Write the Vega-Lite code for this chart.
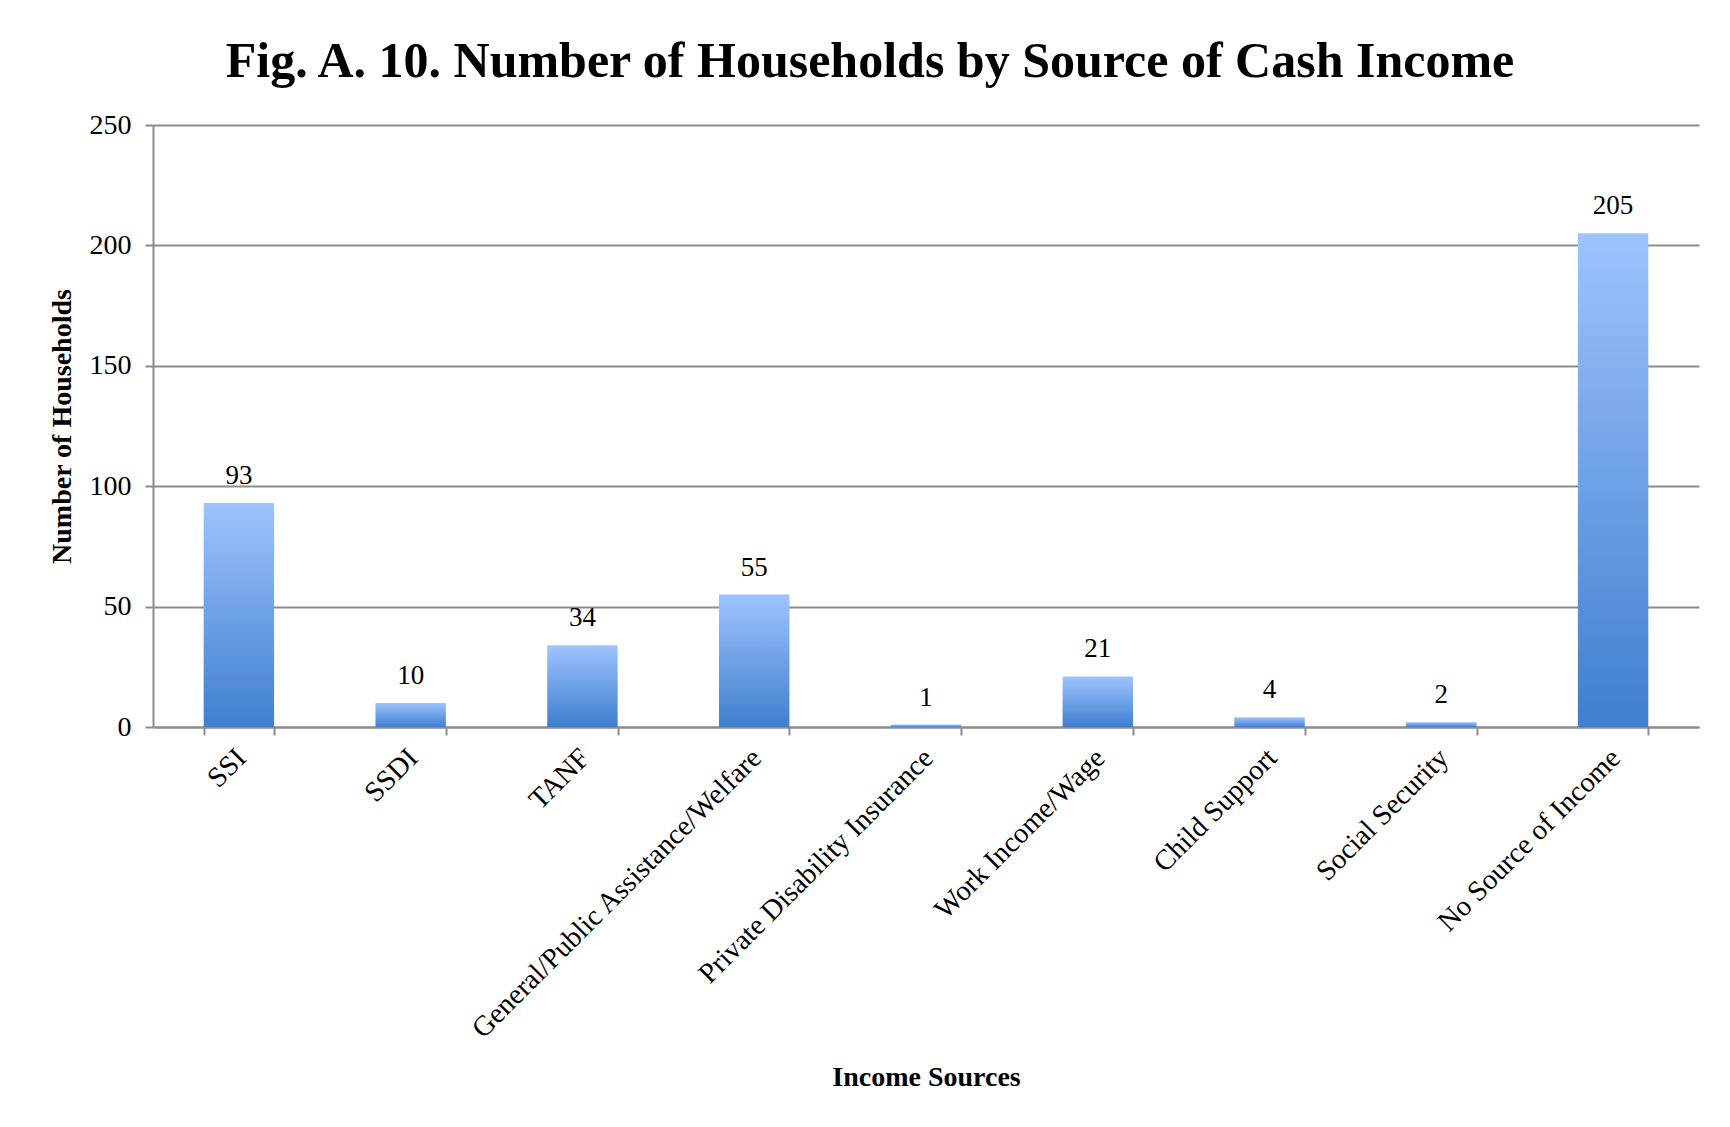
{
  "$schema": "https://vega.github.io/schema/vega-lite/v6.json",
  "width": 1546,
  "height": 602,
  "autosize": {"type": "none"},
  "padding": {"left": 153, "top": 125, "right": 31, "bottom": 400},
  "background": "white",
  "title": {
    "text": "Fig. A. 10. Number of Households by Source of Cash Income",
    "font": "Liberation Serif",
    "fontSize": 50,
    "fontWeight": "bold",
    "color": "black",
    "anchor": "middle",
    "frame": "group",
    "dx": -56,
    "offset": 24
  },
  "config": {
    "view": {"stroke": null},
    "text": {"font": "Liberation Serif"}
  },
  "data": {
    "values": [
      {"source": "SSI", "households": 93},
      {"source": "SSDI", "households": 10},
      {"source": "TANF", "households": 34},
      {"source": "General/Public Assistance/Welfare", "households": 55},
      {"source": "Private Disability Insurance", "households": 1},
      {"source": "Work Income/Wage", "households": 21},
      {"source": "Child Support", "households": 4},
      {"source": "Social Security", "households": 2},
      {"source": "No Source of Income", "households": 205}
    ]
  },
  "encoding": {
    "x": {
      "field": "source",
      "type": "nominal",
      "sort": null,
      "scale": {"paddingInner": 0.59, "paddingOuter": 0.295},
      "axis": {
        "title": "Income Sources",
        "titleFont": "Liberation Serif",
        "titleFontSize": 28,
        "titleFontWeight": "bold",
        "titleColor": "black",
        "titlePadding": 136,
        "labelAngle": -45,
        "labelFont": "Liberation Serif",
        "labelFontSize": 28.5,
        "labelColor": "black",
        "labelPadding": 8,
        "labelOffset": -8,
        "labelLimit": 600,
        "tickBand": "extent",
        "tickSize": 8,
        "tickColor": "#8c8c8c",
        "tickWidth": 2,
        "domainColor": "#8c8c8c",
        "domainWidth": 2
      }
    },
    "y": {
      "field": "households",
      "type": "quantitative",
      "scale": {"domain": [0, 250]},
      "axis": {
        "title": "Number of Households",
        "titleFont": "Liberation Serif",
        "titleFontSize": 28,
        "titleFontWeight": "bold",
        "titleColor": "black",
        "titlePadding": 13,
        "values": [0, 50, 100, 150, 200, 250],
        "labelFont": "Liberation Serif",
        "labelFontSize": 28,
        "labelColor": "black",
        "labelPadding": 14,
        "tickSize": 8,
        "tickColor": "#8c8c8c",
        "tickWidth": 2,
        "domainColor": "#8c8c8c",
        "domainWidth": 2,
        "grid": true,
        "gridColor": "#8c8c8c",
        "gridWidth": 2
      }
    }
  },
  "layer": [
    {
      "mark": {
        "type": "bar",
        "color": {
          "gradient": "linear",
          "x1": 0, "y1": 0, "x2": 0, "y2": 1,
          "stops": [
            {"offset": 0, "color": "#9EC3FE"},
            {"offset": 1, "color": "#3F7FCE"}
          ]
        }
      }
    },
    {
      "mark": {"type": "text", "baseline": "alphabetic", "dy": -19, "fontSize": 27, "color": "black"},
      "encoding": {"text": {"field": "households", "type": "quantitative"}}
    }
  ]
}
